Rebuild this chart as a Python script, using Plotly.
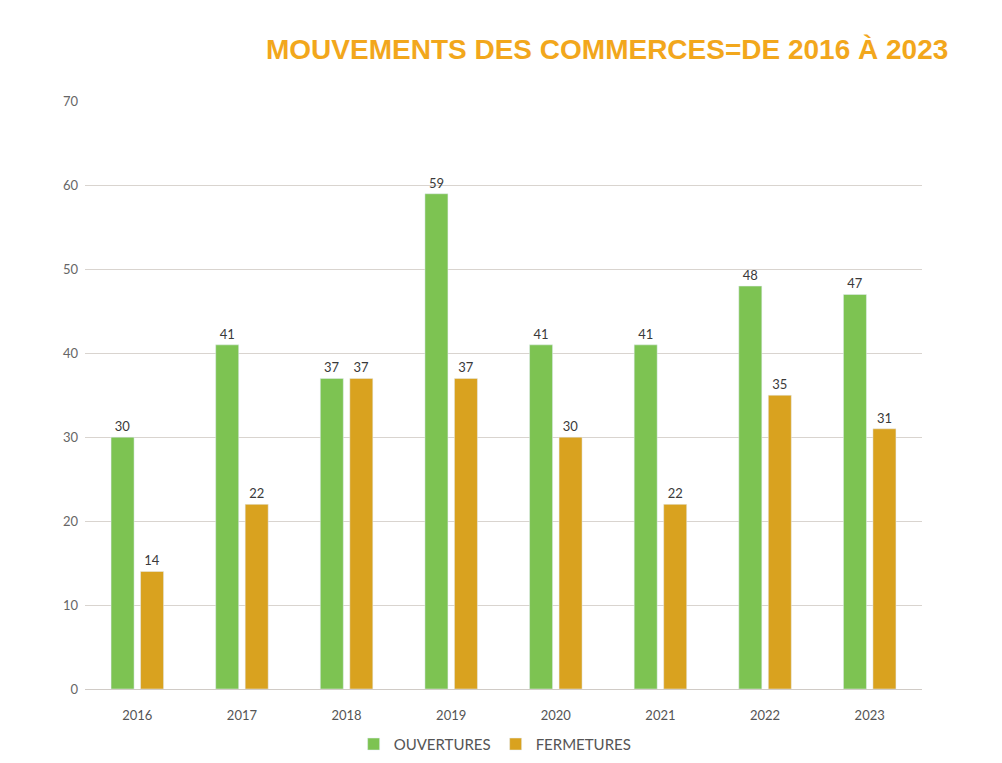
import plotly.graph_objects as go

years = ["2016", "2017", "2018", "2019", "2020", "2021", "2022", "2023"]
ouvertures = [30, 41, 37, 59, 41, 41, 48, 47]
fermetures = [14, 22, 37, 37, 30, 22, 35, 31]
y_ticks = [0, 10, 20, 30, 40, 50, 60, 70]

GREEN = "#7dc352"
GOLD = "#d9a21f"
label_font = dict(family="Lato, sans-serif", size=13, color="#3a3a3a")

fig = go.Figure()
fig.add_trace(go.Bar(
    name="OUVERTURES", x=years, y=ouvertures, marker_color=GREEN,
    text=ouvertures, textposition="outside", textfont=label_font, cliponaxis=False,
))
fig.add_trace(go.Bar(
    name="FERMETURES", x=years, y=fermetures, marker_color=GOLD,
    text=fermetures, textposition="outside", textfont=label_font, cliponaxis=False,
))

fig.update_layout(
    width=986, height=747,
    margin=dict(l=77, r=72, t=93, b=66, autoexpand=False),
    paper_bgcolor="white", plot_bgcolor="white",
    barmode="group", bargap=0.436, bargroupgap=0.22,
    showlegend=True,
    legend=dict(orientation="h", x=0.49, xanchor="center", y=-0.094, yanchor="middle",
                font=dict(family="Lato, sans-serif", size=15, color="#555555"),
                itemwidth=30, traceorder="normal"),
    font=dict(family="Lato, sans-serif"),
    xaxis=dict(showline=True, linecolor="#d0cbc6", linewidth=1, ticks="",
               ticklabelstandoff=14,
               tickfont=dict(family="Lato, sans-serif", size=13, color="#555555")),
    yaxis=dict(range=[0, 70.05], tickvals=y_ticks, showgrid=True, gridcolor="#d9d4cf",
               gridwidth=1, zeroline=False, ticks="", ticklabelstandoff=6,
               tickfont=dict(family="Lato, sans-serif", size=13, color="#666666")),
    annotations=[dict(
        text="<b>MOUVEMENTS DES COMMERCES=DE 2016 À 2023</b>",
        xref="paper", yref="paper", x=1.034, y=1.0, xanchor="right", yanchor="bottom",
        yshift=34, showarrow=False,
        font=dict(family="Liberation Sans, Arial, sans-serif", size=28, color="#f2a71c"),
    )],
)

fig.write_html("out.html")
